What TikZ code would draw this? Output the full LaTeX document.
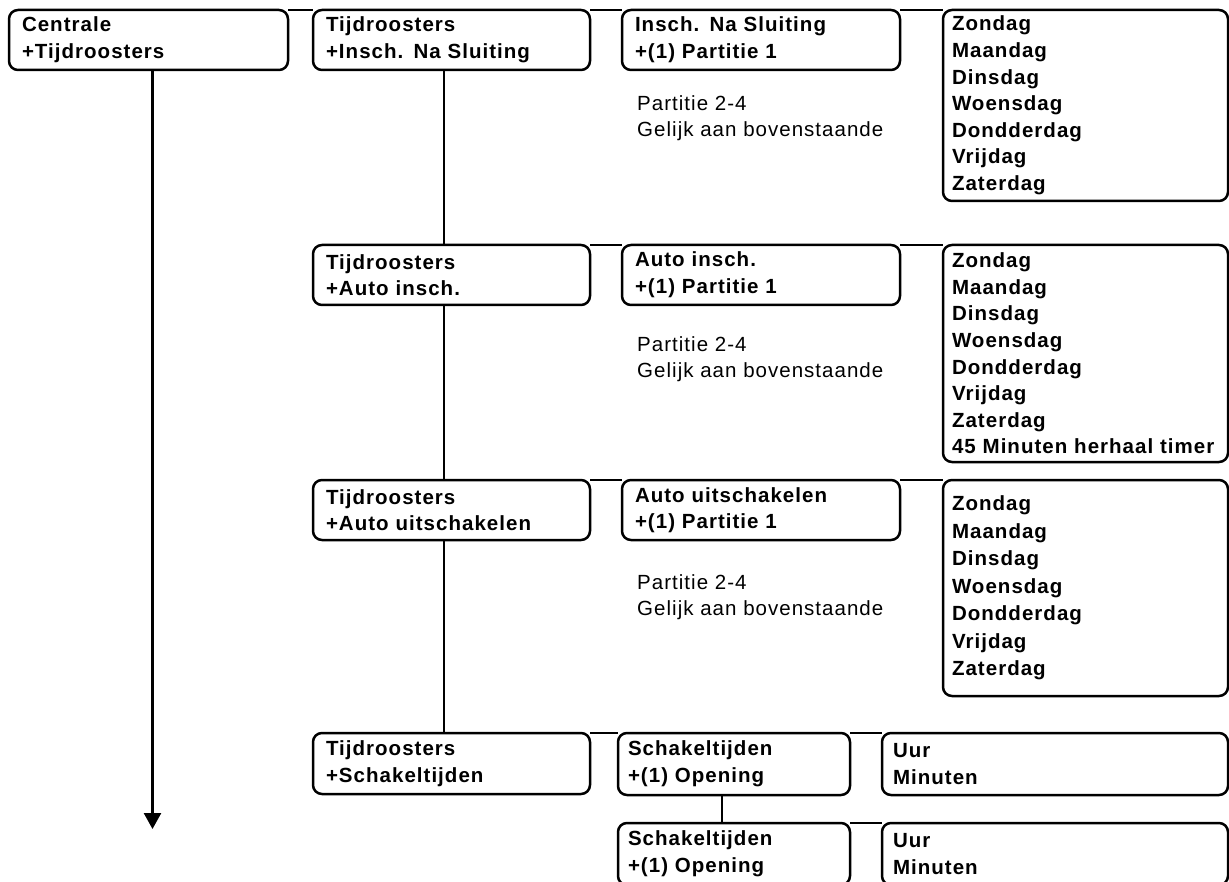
\documentclass[tikz,border=0pt]{standalone}
\usepackage{fontspec}
\setmainfont{Liberation Sans}[LetterSpace=5]
\usetikzlibrary{arrows.meta}
\begin{document}
\begin{tikzpicture}[x=1pt,y=-1pt,
  box/.style={draw, line width=2.5pt, rounded corners=9pt, anchor=north west,
    outer sep=0pt, inner xsep=13pt, inner ysep=0pt, align=left,
    font=\fontsize{20.5}{26.6}\selectfont\bfseries},
  sz/.style 2 args={text width=#1, minimum height=#2},
  conn/.style={line width=2.5pt},
  note/.style={anchor=north west, inner sep=0pt, align=left,
    font=\fontsize{20.5}{26.6}\selectfont}]
\useasboundingbox (0,0) rectangle (1229,882);

% Row 1
\node[box, sz={253pt}{60pt}] (c1) at (9,10) {Centrale\\+Tijdroosters};
\node[box, sz={251pt}{60pt}] (t1) at (313,10) {Tijdroosters\\+Insch. Na Sluiting};
\node[box, sz={252pt}{60pt}] (i1) at (622,10) {Insch. Na Sluiting\\+(1) Partitie 1};
\node[box, inner xsep=9pt, sz={267pt}{191pt}] (d1) at (943,10)
  {Zondag\\Maandag\\Dinsdag\\Woensdag\\Dondderdag\\Vrijdag\\Zaterdag};
\node[note] (n1) at (637,95) {Partitie 2-4\\Gelijk aan bovenstaande};

% Row 2
\node[box, sz={251pt}{60pt}] (t2) at (313,245) {Tijdroosters\\+Auto insch.};
\node[box, sz={252pt}{60pt}] (i2) at (622,245) {Auto insch.\\+(1) Partitie 1};
\node[box, inner xsep=9pt, sz={267pt}{217pt}] (d2) at (943,245)
  {Zondag\\Maandag\\Dinsdag\\Woensdag\\Dondderdag\\Vrijdag\\Zaterdag\\\mbox{45 Minuten herhaal timer}};
\node[note] (n2) at (637,336) {Partitie 2-4\\Gelijk aan bovenstaande};

% Row 3
\node[box, sz={251pt}{60pt}] (t3) at (313,480) {Tijdroosters\\+Auto uitschakelen};
\node[box, sz={252pt}{60pt}] (i3) at (622,480) {Auto uitschakelen\\+(1) Partitie 1};
\node[box, inner xsep=9pt, sz={267pt}{216pt}, font=\fontsize{20.5}{27.5}\selectfont\bfseries] (d3) at (943,480)
  {Zondag\\Maandag\\Dinsdag\\Woensdag\\Dondderdag\\Vrijdag\\Zaterdag};
\node[note] (n3) at (637,574) {Partitie 2-4\\Gelijk aan bovenstaande};

% Row 4
\node[box, sz={251pt}{61pt}] (t4) at (313,733) {Tijdroosters\\+Schakeltijden};
\node[box, inner xsep=10pt, sz={212pt}{62pt}] (s4) at (618,733) {Schakeltijden\\+(1) Opening};
\node[box, inner xsep=11pt, sz={324pt}{62pt}] (u4) at (882,733) {Uur\\Minuten};

% Row 5
\node[box, inner xsep=10pt, sz={212pt}{62pt}] (s5) at (618,823) {Schakeltijden\\+(1) Opening};
\node[box, inner xsep=11pt, sz={324pt}{62pt}] (u5) at (882,823) {Uur\\Minuten};

% top connectors
\draw[conn] (c1.north east) -- (t1.north west);
\draw[conn] (t1.north east) -- (i1.north west);
\draw[conn] (i1.north east) -- (d1.north west);
\draw[conn] (t2.north east) -- (i2.north west);
\draw[conn] (i2.north east) -- (d2.north west);
\draw[conn] (t3.north east) -- (i3.north west);
\draw[conn] (i3.north east) -- (d3.north west);
\draw[conn] (t4.north east) -- (s4.north west);
\draw[conn] (s4.north east) -- (u4.north west);
\draw[conn] (s5.north east) -- (u5.north west);

% vertical connectors
\draw[conn] ([xshift=-7.5pt]t1.south) -- ([xshift=-7.5pt]t2.north);
\draw[conn] ([xshift=-7.5pt]t2.south) -- ([xshift=-7.5pt]t3.north);
\draw[conn] ([xshift=-7.5pt]t3.south) -- ([xshift=-7.5pt]t4.north);
\draw[conn] ([xshift=-12pt]s4.south) -- ([xshift=-12pt]s5.north);

% arrow
\coordinate (cend) at (152.5,829);
\draw[conn, -{Triangle[width=17pt,length=16pt]}] ([xshift=4pt]c1.south) -- (cend);
\end{tikzpicture}
\end{document}
